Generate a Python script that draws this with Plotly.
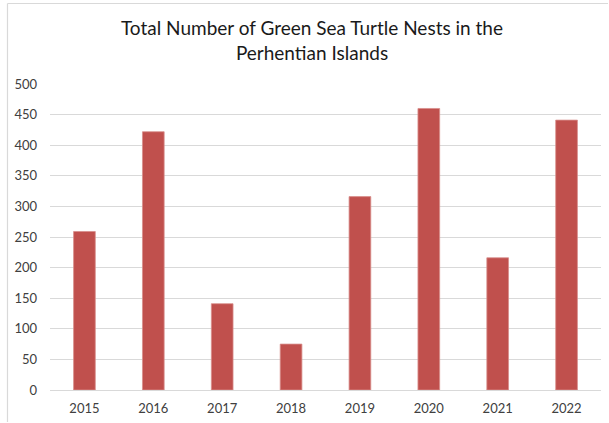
import plotly.graph_objects as go

years = ["2015", "2016", "2017", "2018", "2019", "2020", "2021", "2022"]
nests = [259, 422, 141, 75, 316, 460, 216, 441]
y_ticks = [0, 50, 100, 150, 200, 250, 300, 350, 400, 450, 500]

W, H = 609, 423
L, R, T, B = 50, 8, 84, 33
pw = W - L - R
ph = H - T - B

def px_x(p):
    return (p - L) / pw

def px_y(p):
    return (H - B - p) / ph

fig = go.Figure(go.Bar(
    x=years, y=nests,
    marker=dict(color="#C0504D", line=dict(color="#D88E8B", width=0.8)),
    width=0.315,
))

fig.update_layout(
    width=W, height=H,
    margin=dict(l=L, r=R, t=T, b=B),
    paper_bgcolor="white", plot_bgcolor="white",
    showlegend=False,
    font=dict(family="Lato, Open Sans, sans-serif", color="#404040", size=13),
    title=dict(
        text="Total Number of Green Sea Turtle Nests in the<br>Perhentian Islands",
        x=px_x(312), xref="paper", xanchor="center",
        y=1 - 35 / H, yanchor="middle",
        font=dict(family="Lato, Open Sans, sans-serif", size=19, color="#1a1a1a"),
    ),
    xaxis=dict(
        type="category", showgrid=False, showline=False, ticks="",
        tickfont=dict(size=13, color="#404040"),
        ticklabelstandoff=9,
        range=[-0.5, 7.5],
    ),
    yaxis=dict(
        range=[0, 500], tickvals=y_ticks, showgrid=True,
        gridcolor="#D9D9D9", gridwidth=1, zeroline=True,
        zerolinecolor="#D9D9D9", zerolinewidth=1,
        showline=False, ticks="", ticklabelstandoff=12,
        tickfont=dict(size=13, color="#404040"),
    ),
    shapes=[
        dict(type="line", xref="paper", yref="paper",
             x0=px_x(7.5), x1=px_x(7.5), y0=px_y(3.5), y1=px_y(422),
             line=dict(color="#D9D9D9", width=1.2)),
        dict(type="line", xref="paper", yref="paper",
             x0=px_x(7.5), x1=px_x(608), y0=px_y(3.5), y1=px_y(3.5),
             line=dict(color="#D9D9D9", width=1.2)),
    ],
)

fig.write_html("out.html", config={"displayModeBar": False})
